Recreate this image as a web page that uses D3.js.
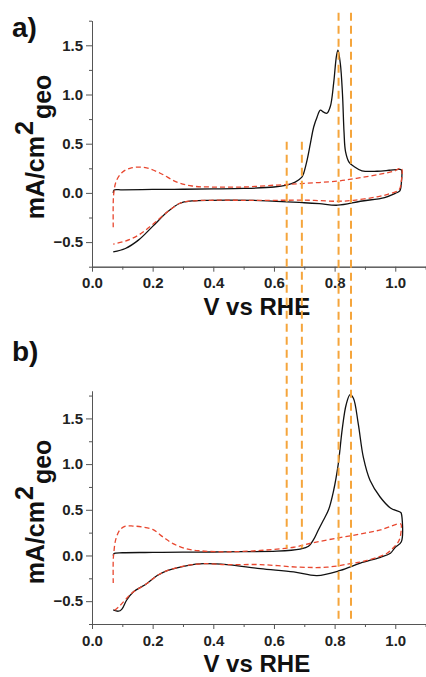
<!DOCTYPE html>
<html>
<head>
<meta charset="utf-8">
<script src="https://cdn.jsdelivr.net/npm/d3@7"></script>
<style>
    body { margin: 0; background: #fff; }
    text { font-family: 'Liberation Sans', Arial, sans-serif; font-weight: bold; }
</style>
</head>
<body>
<div id="wrapper"></div>
<script>
// values: [V vs RHE, mA/cm2]
const aSolid = [
    [0.070, 0.00], [0.073, 0.03], [0.10, 0.03], [0.2, 0.035], [0.3, 0.037], [0.4, 0.04],
    [0.5, 0.045], [0.6, 0.06], [0.642, 0.08], [0.67, 0.11], [0.692, 0.16], [0.698, 0.20],
    [0.709, 0.33], [0.72, 0.50], [0.731, 0.67], [0.742, 0.77], [0.753, 0.84], [0.764, 0.82],
    [0.775, 0.81], [0.786, 0.88], [0.797, 1.12], [0.806, 1.39], [0.811, 1.45], [0.819, 1.31],
    [0.826, 1.0], [0.831, 0.62], [0.836, 0.42], [0.848, 0.31], [0.863, 0.27], [0.89, 0.225],
    [0.94, 0.22], [0.98, 0.23], [1.012, 0.24], [1.02, 0.235], [1.02, 0.10], [1.015, 0.02],
    [1.0, -0.005], [0.965, -0.047], [0.885, -0.085], [0.81, -0.125], [0.75, -0.11], [0.70, -0.10],
    [0.555, -0.078], [0.39, -0.075], [0.33, -0.082], [0.29, -0.105], [0.25, -0.19], [0.2, -0.34],
    [0.153, -0.48], [0.11, -0.565], [0.07, -0.60]
]
const aDashed = [
    [0.07, -0.35], [0.07, -0.1], [0.072, 0.0], [0.08, 0.12], [0.10, 0.21], [0.125, 0.25],
    [0.15, 0.262], [0.18, 0.255], [0.225, 0.20], [0.28, 0.11], [0.33, 0.07], [0.39, 0.06],
    [0.5, 0.06], [0.61, 0.08], [0.69, 0.095], [0.81, 0.12], [0.885, 0.155], [0.95, 0.19],
    [0.995, 0.22], [1.02, 0.25], [1.02, 0.12], [1.012, 0.03], [0.98, -0.01], [0.94, -0.04],
    [0.863, -0.075], [0.81, -0.085], [0.72, -0.075], [0.61, -0.075], [0.5, -0.075], [0.39, -0.075],
    [0.33, -0.082], [0.29, -0.105], [0.25, -0.19], [0.2, -0.32], [0.153, -0.43], [0.11, -0.49],
    [0.07, -0.52]
]
const bSolid = [
    [0.07, 0.0], [0.072, 0.02], [0.1, 0.03], [0.2, 0.033], [0.3, 0.036], [0.4, 0.038],
    [0.5, 0.042], [0.61, 0.047], [0.686, 0.07], [0.714, 0.10], [0.73, 0.17], [0.745, 0.27],
    [0.762, 0.38], [0.78, 0.50], [0.796, 0.70], [0.812, 1.0], [0.825, 1.38], [0.838, 1.65],
    [0.851, 1.76], [0.862, 1.72], [0.878, 1.44], [0.895, 1.07], [0.917, 0.82], [0.95, 0.64],
    [0.984, 0.52], [1.018, 0.47], [1.02, 0.46], [1.02, 0.15], [1.0, 0.09], [0.984, 0.025],
    [0.951, -0.02], [0.885, -0.084], [0.819, -0.164], [0.742, -0.22], [0.665, -0.18], [0.555, -0.145],
    [0.445, -0.10], [0.368, -0.09], [0.314, -0.11], [0.248, -0.165], [0.215, -0.22], [0.18, -0.31],
    [0.136, -0.40], [0.114, -0.49], [0.098, -0.59], [0.087, -0.61], [0.07, -0.595]
]
const bDashed = [
    [0.07, -0.30], [0.07, -0.05], [0.072, 0.03], [0.078, 0.17], [0.092, 0.28], [0.11, 0.32],
    [0.135, 0.322], [0.165, 0.312], [0.2, 0.285], [0.235, 0.2], [0.267, 0.13], [0.31, 0.073],
    [0.36, 0.05], [0.445, 0.04], [0.555, 0.055], [0.665, 0.09], [0.73, 0.14], [0.808, 0.19],
    [0.885, 0.235], [0.951, 0.28], [1.018, 0.345], [1.02, 0.3], [1.012, 0.16], [0.995, 0.09],
    [0.973, 0.025], [0.907, -0.055], [0.852, -0.09], [0.775, -0.128], [0.686, -0.128], [0.555, -0.10],
    [0.445, -0.10], [0.368, -0.09], [0.314, -0.11], [0.248, -0.165], [0.215, -0.22], [0.18, -0.31],
    [0.136, -0.40], [0.114, -0.47], [0.092, -0.55], [0.075, -0.60]
]

const xTicks = [0.0, 0.2, 0.4, 0.6, 0.8, 1.0]
const xMinor = [0.1, 0.3, 0.5, 0.7, 0.9, 1.1]
const yTicks = [-0.5, 0.0, 0.5, 1.0, 1.5]
const yMinor = [-0.75, -0.25, 0.25, 0.75, 1.25, 1.75]

// orange guide lines: V, top (panel a units), bottom (panel b units)
const guideV = [0.642, 0.692, 0.813, 0.854]
const guideTopA = [0.52, 0.52, 1.83, 1.83]
const guideBottomB = [0.08, 0.08, -0.73, -0.73]

const dms = { width: 426, height: 677, left: 92, right: 425.6 }

const svg = d3.select('#wrapper')
    .append('svg')
        .attr('width', dms.width)
        .attr('height', dms.height)

const xScale = d3.scaleLinear()
    .domain([0, 1.1])
    .range([dms.left, dms.right])

const lineGen = y => d3.line()
    .x(d => xScale(d[0]))
    .y(d => y(d[1]))
    .curve(d3.curveCatmullRom.alpha(0.5))

function drawPanel({ label, top, bottom, yMax, solid, dashed, labelY, titleY, xLabelY }) {
    const yScale = d3.scaleLinear()
        .domain([-0.75, yMax])
        .range([bottom, top])

    const g = svg.append('g')

    // curves
    g.append('path')
        .attr('d', lineGen(yScale)(solid))
        .attr('fill', 'none')
        .attr('stroke', '#111')
        .attr('stroke-width', 1.3)

    g.append('path')
        .attr('d', lineGen(yScale)(dashed))
        .attr('fill', 'none')
        .attr('stroke', '#e8472f')
        .attr('stroke-width', 1.3)
        .attr('stroke-dasharray', '5,3')

    // axes
    g.append('g')
        .attr('transform', `translate(${dms.left},0)`)
        .call(d3.axisLeft(yScale).tickValues(yTicks).tickFormat(d3.format('.1f')).tickSize(6).tickPadding(3).tickSizeOuter(0))
    g.append('g')
        .attr('transform', `translate(${dms.left},0)`)
        .call(d3.axisLeft(yScale).tickValues(yMinor).tickFormat('').tickSize(3).tickSizeOuter(0))

    g.append('g')
        .attr('transform', `translate(0,${bottom})`)
        .call(d3.axisBottom(xScale).tickValues(xTicks).tickFormat(d3.format('.1f')).tickSize(5).tickPadding(6).tickSizeOuter(0))
    g.append('g')
        .attr('transform', `translate(0,${bottom})`)
        .call(d3.axisBottom(xScale).tickValues(xMinor).tickFormat('').tickSize(3).tickSizeOuter(0))

    g.selectAll('.domain, .tick line').attr('stroke', '#555')
    g.selectAll('.tick text')
        .style('font-size', '15px')
        .style('font-weight', 'bold')
        .attr('fill', '#222')

    // labels
    g.append('text')
        .attr('x', (dms.left + dms.right) / 2 - 2)
        .attr('y', xLabelY)
        .attr('text-anchor', 'middle')
        .style('font-size', '24px')
        .attr('fill', '#111')
        .text('V vs RHE')

    const yl = g.append('text')
        .attr('transform', `translate(44,${labelY}) rotate(-90)`)
        .attr('text-anchor', 'middle')
        .style('font-size', '25px')
        .attr('fill', '#111')
    yl.append('tspan').text('mA/cm')
    yl.append('tspan').attr('dx', 1).attr('dy', -11).text('2')
    yl.append('tspan').attr('dx', 2).attr('dy', 18).text('geo')

    g.append('text')
        .attr('x', 12)
        .attr('y', titleY)
        .style('font-size', '28px')
        .attr('fill', '#111')
        .text(label)

    return yScale
}

const yA = drawPanel({
    label: 'a)', top: 20.7, bottom: 266.7, yMax: 1.75,
    solid: aSolid, dashed: aDashed, labelY: 147, titleY: 37, xLabelY: 315
})
const yB = drawPanel({
    label: 'b)', top: 391, bottom: 624, yMax: 1.8,
    solid: bSolid, dashed: bDashed, labelY: 512, titleY: 361, xLabelY: 672
})

// orange guides across both panels
svg.append('g')
    .selectAll('line')
    .data(guideV)
    .join('line')
        .attr('x1', d => xScale(d))
        .attr('x2', d => xScale(d))
        .attr('y1', (d, i) => yA(guideTopA[i]))
        .attr('y2', (d, i) => yB(guideBottomB[i]))
        .attr('stroke', '#f5a53c')
        .attr('stroke-width', 2)
        .attr('stroke-dasharray', '8,5')
</script>
</body>
</html>
